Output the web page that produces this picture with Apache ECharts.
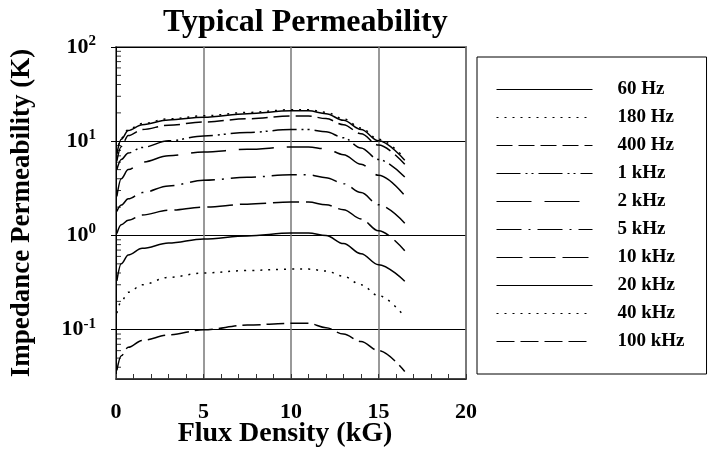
<!DOCTYPE html>
<html>
<head>
<meta charset="utf-8">
<script src="https://cdn.jsdelivr.net/npm/echarts@6/dist/echarts.min.js"></script>
<style>html,body{margin:0;padding:0;background:#fff}#c{width:711px;height:459px}</style>
</head>
<body>
<div id="c"></div>
<script>
// Flux density sample points (kG)
const fluxKG = [0.05, 0.3, 0.7, 1.5, 3, 5, 7.5, 10, 11, 12, 13, 14, 15, 16.5];

const seriesNames = ['60 Hz', '180 Hz', '400 Hz', '1 kHz', '2 kHz', '5 kHz', '10 kHz', '20 kHz', '40 kHz', '100 kHz'];

const perm60Hz   = [7.3, 10.5, 13.0, 15.0, 16.8, 18.0, 19.6, 21.0, 21.0, 19.6, 16.7, 13.3, 10.1, 6.3];
const perm180Hz  = [7.5, 10.8, 13.3, 15.4, 17.3, 18.6, 20.2, 21.6, 21.6, 20.3, 17.3, 13.8, 10.5, 6.6];
const perm400Hz  = [6.2, 8.8, 11.5, 13.3, 14.8, 16.0, 17.3, 18.5, 18.5, 17.4, 15.0, 12.0, 9.1, 5.7];
const perm1kHz   = [5.0, 6.4, 7.5, 8.6, 10.1, 11.4, 12.4, 13.3, 13.3, 12.6, 10.9, 8.5, 6.4, 4.17];
const perm2kHz   = [2.6, 4.0, 5.0, 6.0, 7.0, 7.7, 8.2, 8.7, 8.7, 8.3, 7.2, 5.7, 4.35, 2.65];
const perm5kHz   = [1.8, 2.1, 2.45, 2.85, 3.35, 3.85, 4.15, 4.4, 4.4, 4.1, 3.55, 2.85, 2.12, 1.35];
const perm10kHz  = [1.05, 1.3, 1.45, 1.65, 1.85, 2.0, 2.15, 2.26, 2.26, 2.12, 1.88, 1.5, 1.12, 0.69];
const perm20kHz  = [0.33, 0.5, 0.62, 0.73, 0.83, 0.92, 0.99, 1.06, 1.06, 1.0, 0.82, 0.64, 0.49, 0.327];
const perm40kHz  = [0.15, 0.2, 0.25, 0.3, 0.36, 0.40, 0.425, 0.44, 0.44, 0.42, 0.37, 0.30, 0.23, 0.137];
const perm100kHz = [0.037, 0.053, 0.065, 0.077, 0.088, 0.1, 0.112, 0.117, 0.117, 0.105, 0.09, 0.075, 0.060, 0.036];

const allPerm = [perm60Hz, perm180Hz, perm400Hz, perm1kHz, perm2kHz, perm5kHz, perm10kHz, perm20kHz, perm40kHz, perm100kHz];

// axis ticks
const xTickValues = [0, 5, 10, 15, 20];
const yDecadeExponents = [-1, 0, 1, 2];
const yMinorTickValues = [0.04,0.05,0.06,0.07,0.08,0.09, 0.2,0.3,0.4,0.5,0.6,0.7,0.8,0.9, 2,3,4,5,6,7,8,9, 20,30,40,50,60,70,80,90];

const dashStyles = [
  'solid',
  [2, 6],
  [16, 6],
  [24, 5, 2, 4, 2, 5],
  [35, 13],
  [25, 7, 2, 7],
  [26, 7],
  'solid',
  [2, 6],
  [18, 6]
];

const FONT = '"Liberation Serif", "Times New Roman", serif';

const series = seriesNames.map((name, i) => ({
  name: name,
  type: 'line',
  data: fluxKG.map((x, j) => [x, allPerm[i][j]]),
  symbol: 'none',
  smooth: 0.35,
  smoothMonotone: 'x',
  lineStyle: { color: '#000', width: 1.5, type: dashStyles[i], cap: 'butt' },
  itemStyle: { color: '#000' },
  emphasis: { disabled: true },
  z: 3
}));

series.push({
  name: 'minorTicks',
  type: 'scatter',
  data: yMinorTickValues.map(v => [0, v]),
  symbol: 'rect',
  symbolSize: [5, 1],
  symbolOffset: [2.5, 0],
  itemStyle: { color: '#000' },
  silent: true,
  clip: false,
  z: 4
});

const chart = echarts.init(document.getElementById('c'), null, { renderer: 'canvas' });
chart.setOption({
  animation: false,
  backgroundColor: '#fff',
  title: {
    text: 'Typical Permeability',
    left: 158,
    top: 2,
    textStyle: { fontFamily: FONT, fontWeight: 'bold', fontSize: 32, color: '#000' }
  },
  grid: {
    left: 116, right: 245, top: 47, bottom: 80,
    show: true, borderColor: '#808080', borderWidth: 2, backgroundColor: 'transparent'
  },
  legend: {
    data: seriesNames,
    orient: 'vertical',
    left: 477,
    top: 57,
    itemWidth: 96,
    itemHeight: 14,
    itemGap: 9,
    padding: [23, 22, 23, 19],
    borderColor: '#000',
    borderWidth: 1,
    selectedMode: false,
    textStyle: { fontFamily: FONT, fontWeight: 'bold', fontSize: 19, color: '#000', padding: [0, 0, 0, 20] },
    itemStyle: { opacity: 0, color: 'transparent', borderWidth: 0 },
    lineStyle: { width: 1 }
  },
  xAxis: {
    type: 'value',
    min: 0, max: 20, interval: 5,
    name: 'Flux Density (kG)',
    nameLocation: 'middle',
    nameGap: 41,
    nameMoveOverlap: false,
    nameTextStyle: { fontFamily: FONT, fontWeight: 'bold', fontSize: 28, color: '#000', padding: [0, 12, 0, 0] },
    axisLine: { show: true, lineStyle: { color: '#333', width: 1.5 } },
    axisTick: { show: true, inside: true, length: 5, lineStyle: { color: '#333' } },
    minorTick: { show: true, splitNumber: 5, length: 5, lineStyle: { color: '#333' } },
    axisLabel: {
      margin: 22,
      fontFamily: FONT, fontWeight: 'bold', fontSize: 22, color: '#000',
      formatter: v => xTickValues.indexOf(v) >= 0 ? String(v) : ''
    },
    splitLine: { show: true, lineStyle: { color: '#777', width: 1.5 } }
  },
  yAxis: {
    type: 'log',
    logBase: 10,
    min: 0.03, max: 100,
    name: 'Impedance Permeability (K)',
    nameLocation: 'middle',
    nameGap: 80,
    nameMoveOverlap: false,
    nameTextStyle: { fontFamily: FONT, fontWeight: 'bold', fontSize: 27, color: '#000' },
    axisLine: { show: true, lineStyle: { color: '#000', width: 1 } },
    axisTick: { show: true, inside: false, length: 5, lineStyle: { color: '#000' } },
    axisLabel: {
      margin: 20,
      showMinLabel: false,
      formatter: function (v) {
        const e = Math.round(Math.log10(v));
        if (yDecadeExponents.indexOf(e) < 0 || Math.abs(v / Math.pow(10, e) - 1) > 1e-6) return '';
        return '{b|10}{s|' + e + '}';
      },
      rich: {
        b: { fontFamily: FONT, fontWeight: 'bold', fontSize: 22, color: '#000' },
        s: { fontFamily: FONT, fontWeight: 'bold', fontSize: 15, color: '#000', padding: [0, 0, 12, 0] }
      }
    },
    splitLine: { show: true, lineStyle: { color: '#000', width: 1 } }
  },
  series: series
});
</script>
</body>
</html>
